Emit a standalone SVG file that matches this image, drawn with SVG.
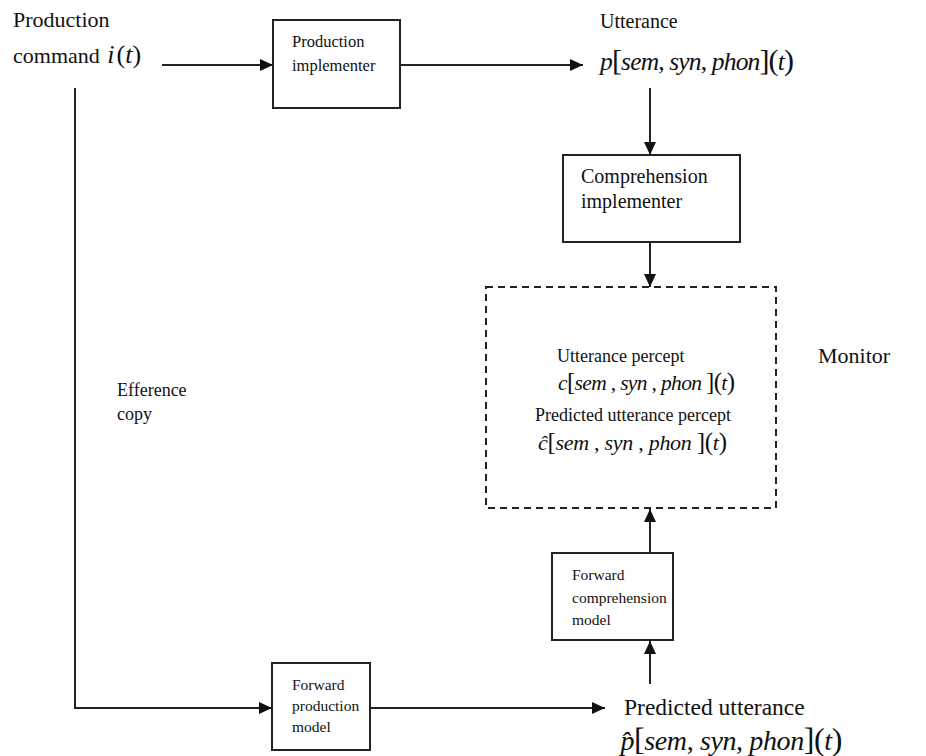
<svg xmlns="http://www.w3.org/2000/svg" width="926" height="756" viewBox="0 0 926 756">
<style>
text{font-family:"Liberation Serif","Times New Roman",serif;fill:#111}
.box{fill:#fff;stroke:#222;stroke-width:2}
.line{fill:none;stroke:#222;stroke-width:2}
.dash{fill:none;stroke:#222;stroke-width:2;stroke-dasharray:7 5}
.i{font-style:italic}
.lbl{font-size:16.5px}
.fw{font-size:15.5px}
.mon{font-size:18px}
</style>
<defs>
<marker id="arr" markerWidth="14" markerHeight="12" refX="13" refY="6" orient="auto" markerUnits="userSpaceOnUse">
<path d="M0,0 L13,6 L0,12 Z" fill="#111"/>
</marker>
</defs>
<rect width="926" height="756" fill="#fff"/>

<g id="connectors">
<line class="line" x1="162" y1="65" x2="273" y2="65" marker-end="url(#arr)"/>
<line class="line" x1="400" y1="65" x2="583" y2="65" marker-end="url(#arr)"/>
<line class="line" x1="650" y1="88" x2="650" y2="155" marker-end="url(#arr)"/>
<line class="line" x1="650" y1="242" x2="650" y2="287" marker-end="url(#arr)"/>
<line class="line" x1="650" y1="553" x2="650" y2="509" marker-end="url(#arr)"/>
<line class="line" x1="650" y1="684" x2="650" y2="641" marker-end="url(#arr)"/>
<polyline class="line" points="75,88 75,708 272,708" marker-end="url(#arr)"/>
<line class="line" x1="370" y1="708" x2="605" y2="708" marker-end="url(#arr)"/>
</g>

<g id="production-command">
<text x="13" y="27" font-size="22">Production</text>
<text x="13" y="63" font-size="22">command <tspan class="i" font-size="26" dx="2">i</tspan><tspan font-size="26" dx="2">(</tspan><tspan class="i" font-size="26">t</tspan><tspan font-size="26">)</tspan></text>
</g>

<g id="production-implementer">
<rect class="box" x="273" y="20" width="127" height="88"/>
<text class="lbl" x="292" y="47">Production</text>
<text class="lbl" x="292" y="71">implementer</text>
</g>

<g id="utterance">
<text x="600" y="28" font-size="20">Utterance</text>
<text x="600" y="70" font-size="25.5" textLength="194" lengthAdjust="spacing"><tspan class="i">p</tspan><tspan font-size="30">[</tspan><tspan class="i">sem</tspan>, <tspan class="i">syn</tspan>, <tspan class="i">phon</tspan><tspan font-size="30">](</tspan><tspan class="i">t</tspan><tspan font-size="30">)</tspan></text>
</g>

<g id="comprehension-implementer">
<rect class="box" x="563" y="155" width="177" height="87"/>
<text x="581" y="183" font-size="20">Comprehension</text>
<text x="581" y="208" font-size="20">implementer</text>
</g>

<g id="monitor">
<rect class="dash" x="486" y="287" width="290" height="221"/>
<text class="mon" x="557" y="362">Utterance percept</text>
<text x="558" y="390" font-size="21.5" textLength="177" lengthAdjust="spacing"><tspan class="i">c</tspan><tspan font-size="25">[</tspan><tspan class="i">sem</tspan> , <tspan class="i">syn</tspan> , <tspan class="i">phon</tspan> <tspan font-size="25">](</tspan><tspan class="i">t</tspan><tspan font-size="25">)</tspan></text>
<text class="mon" x="535" y="421">Predicted utterance percept</text>
<text x="538" y="450" font-size="22" textLength="189" lengthAdjust="spacing"><tspan class="i">ĉ</tspan><tspan font-size="25">[</tspan><tspan class="i">sem</tspan> , <tspan class="i">syn</tspan> , <tspan class="i">phon</tspan> <tspan font-size="25">](</tspan><tspan class="i">t</tspan><tspan font-size="25">)</tspan></text>
<text x="818" y="363" font-size="22">Monitor</text>
</g>

<g id="efference-copy">
<text class="mon" x="117" y="396">Efference</text>
<text class="mon" x="117" y="420">copy</text>
</g>

<g id="forward-comprehension-model">
<rect class="box" x="552" y="553" width="121" height="87"/>
<text class="fw" x="572" y="580">Forward</text>
<text class="fw" x="572" y="603">comprehension</text>
<text class="fw" x="572" y="625">model</text>
</g>

<g id="forward-production-model">
<rect class="box" x="272" y="663" width="98" height="87"/>
<text class="fw" x="292" y="690">Forward</text>
<text class="fw" x="292" y="711">production</text>
<text class="fw" x="292" y="732">model</text>
</g>

<g id="predicted-utterance">
<text x="624" y="715" font-size="23.5">Predicted utterance</text>
<text x="620" y="750" font-size="28" textLength="222" lengthAdjust="spacing"><tspan class="i">p̂</tspan><tspan font-size="32">[</tspan><tspan class="i">sem</tspan>, <tspan class="i">syn</tspan>, <tspan class="i">phon</tspan><tspan font-size="32">](</tspan><tspan class="i">t</tspan><tspan font-size="32">)</tspan></text>
</g>
</svg>
